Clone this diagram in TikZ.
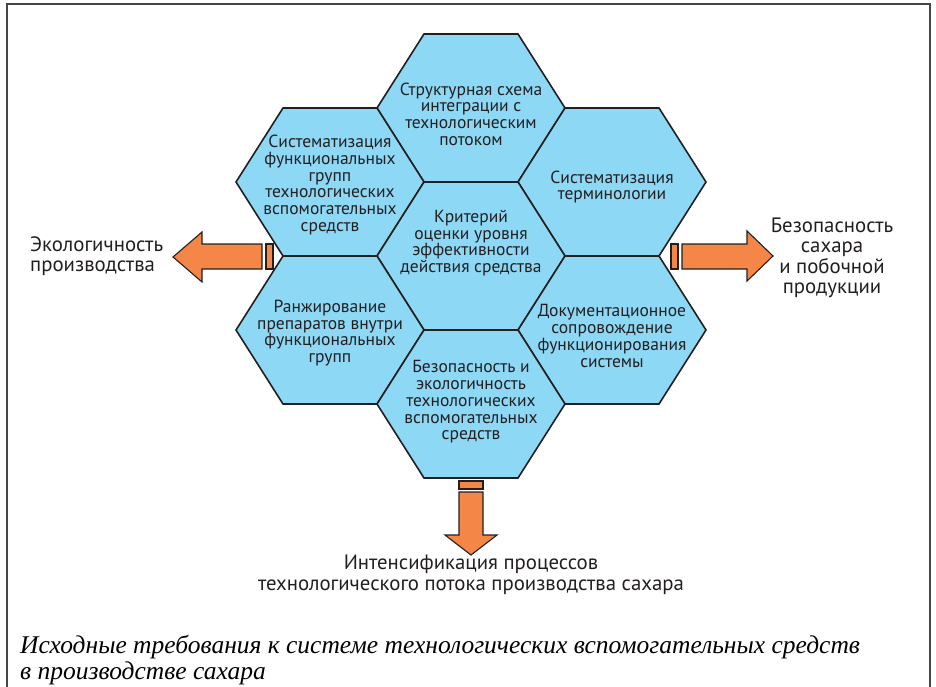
\documentclass[tikz,border=0pt]{standalone}
\usepackage{fontspec}
\setmainfont{PT Sans}
\newfontfamily\figcapserif{Liberation Serif}[ItalicFont={Liberation Serif Italic}]
\definecolor{cellblue}{RGB}{141,216,245}
\definecolor{arroworange}{RGB}{244,135,72}
\definecolor{inkdark}{RGB}{35,31,32}
\definecolor{framegray}{RGB}{70,70,70}
\tikzset{
  cell/.style={draw=inkdark, fill=cellblue, line width=1.6pt, line join=miter},
  celltext/.style={align=center, text=inkdark, font=\fontsize{17.5}{16.7}\selectfont, inner sep=0pt},
  blockarrow/.style={draw=inkdark, fill=arroworange, line width=1.1pt, line join=miter},
  outertext/.style={text=inkdark, font=\fontsize{20.8}{20.5}\selectfont, inner sep=0pt},
  captiontext/.style={align=left, text=black, font=\figcapserif\itshape\fontsize{25.5}{26}\selectfont, inner sep=0pt}
}
% hexagonal cell: name, centre x, centre y, text offset, text
\newcommand\hexcell[5]{%
  \draw[cell] (#2-94,#3) -- (#2-47,#3-74) -- (#2+47,#3-74) -- (#2+94,#3)
    -- (#2+47,#3+74) -- (#2-47,#3+74) -- cycle;
  \node[celltext] (#1) at (#2,#3+#4) {#5};}
\begin{document}
\begin{tikzpicture}[x=1pt,y=-1pt]
\useasboundingbox (0,0) rectangle (936,687);
% frame open at the bottom
\draw[framegray, line width=1.4pt] (7,687) -- (7,4) -- (930,4) -- (930,687);

% honeycomb
\hexcell{top}{471}{108}{6}{Структурная схема\\интеграции с\\технологическим\\потоком}
\hexcell{upleft}{330}{182}{3}{Систематизация\\функциональных\\групп\\технологических\\вспомогательных\\средств}
\hexcell{upright}{612}{182}{5}{Систематизация\\терминологии}
\hexcell{centre}{471}{256}{-13}{Критерий\\оценки уровня\\эффективности\\действия средства}
\hexcell{lowleft}{330}{330}{3}{Ранжирование\\препаратов внутри\\функциональных\\групп}
\hexcell{lowright}{612}{330}{6}{Документационное\\сопровождение\\функционирования\\системы}
\hexcell{bottom}{471}{404}{-2}{Безопасность и\\экологичность\\технологических\\вспомогательных\\средств}

% outgoing block arrows
\draw[blockarrow] (266,244) rectangle (273,269);
\draw[blockarrow] (262,244) -- (202,244) -- (202,232) -- (173,257) -- (202,282) -- (202,269) -- (262,269) -- cycle;
\draw[blockarrow] (671,244) rectangle (678,269);
\draw[blockarrow] (682,244) -- (747,244) -- (747,231) -- (773,256) -- (747,281) -- (747,269) -- (682,269) -- cycle;
\draw[blockarrow] (459,481) rectangle (483,489);
\draw[blockarrow] (459,492) -- (483,492) -- (483,535) -- (497,535) -- (471,555) -- (445,535) -- (459,535) -- cycle;

% outcome labels
\node[outertext, align=left, anchor=west] (ecology) at (30,256) {Экологичность\\производства};
\node[outertext, align=center] (safety) at (832,258) {Безопасность\\сахара\\и побочной\\продукции};
\node[outertext, align=center] (intens) at (471,575) {Интенсификация процессов\\технологического потока производства сахара};

% caption
\node[captiontext, anchor=west] (caption) at (20,660) {Исходные требования к системе технологических вспомогательных средств\\в производстве сахара};
\end{tikzpicture}
\end{document}
